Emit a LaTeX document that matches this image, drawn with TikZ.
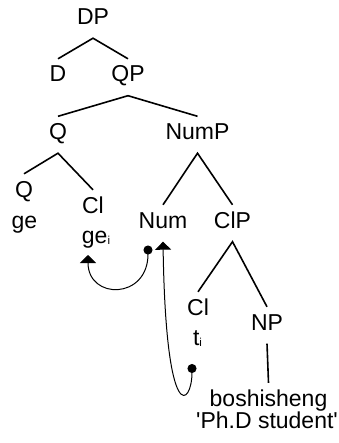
\documentclass[tikz,border=0pt]{standalone}
\usepackage{fontspec}
\setmainfont{Liberation Sans}
\usepackage{tikz}
\usetikzlibrary{arrows.meta}
\newcommand{\idx}[1]{\raisebox{-1pt}{\fontsize{11.5}{12}\selectfont #1}}
\tikzset{
  cat/.style={anchor=base, inner xsep=1pt, inner ysep=6.5pt,
    text height=16.5pt, text depth=7pt, font=\fontsize{23}{27}\selectfont},
  branch/.style={line width=1.6pt},
  move/.style={line width=1pt, {Circle[length=9pt]}-{Triangle[width=16pt,length=8pt]}}
}

\begin{document}
\begin{tikzpicture}[x=1pt,y=-1pt]
  \useasboundingbox (0,0) rectangle (338,443);
  % categories
  \node[cat] (DP)   at (93,24.5)   {DP};
  \node[cat] (D)    at (58,82)     {D};
  \node[cat] (QP)   at (128,82)    {QP};
  \node[cat] (Q)    at (58,139.5)  {Q};
  \node[cat] (NumP) at (197.5,139.5) {NumP};
  \node[cat] (Qh)   at (24,197)    {Q};
  \node[cat] (Cl)   at (93,213)    {Cl};
  \node[cat] (Num)  at (163,228)   {Num};
  \node[cat] (ClP)  at (232.5,228) {ClP};
  \node[cat] (Clh)  at (198,315)   {Cl};
  \node[cat] (NP)   at (267,330)   {NP};
  % words
  \node[cat] (ge)    at (24.5,228)  {ge};
  \node[cat] (gei)   at (96,243)    {ge\idx{i}};
  \node[cat] (ti)    at (197.5,345) {t\idx{i}};
  \node[cat] (noun)  at (268.5,406) {boshisheng};
  \node[cat] (gloss) at (267,428)   {\textquotesingle Ph.D student\textquotesingle};
  % branches
  \draw[branch] (D.north) -- (DP.south) -- (QP.north);
  \draw[branch] (Q.north) -- (QP.south) -- (NumP.north);
  \draw[branch] (Qh.north) -- (Q.south) -- (Cl.north);
  \draw[branch] (Num.north) -- (NumP.south) -- (ClP.north);
  \draw[branch] (Clh.north) -- (ClP.south) -- (NP.north);
  \draw[branch] (NP.south) -- (noun.north);
  % movement
  \coordinate (dot1) at (148,245.5);
  \coordinate (land1) at (88,255);
  \coordinate (dot2) at (192,364);
  \draw[move] (dot1) .. controls (148,300) and (88,300) .. (land1);
  \draw[move] (dot2) .. controls (192,405) and (166,430) .. (Num.south);
\end{tikzpicture}
\end{document}
